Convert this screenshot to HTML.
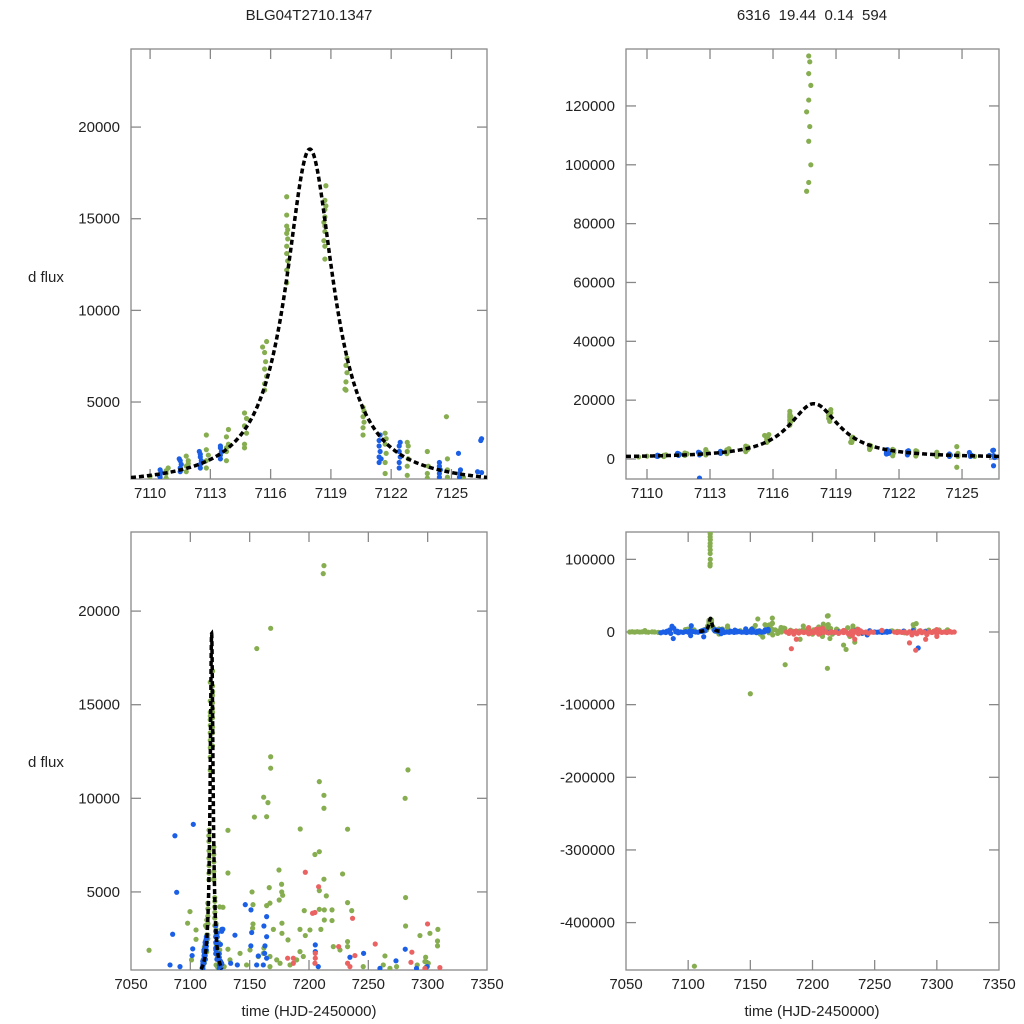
<!DOCTYPE html>
<html><head><meta charset="utf-8"><style>
html,body{margin:0;padding:0;background:#fff;width:1024px;height:1024px;overflow:hidden;}
svg{display:block;font-family:"Liberation Sans",Arial,sans-serif;}
</style></head><body>
<svg id="fig" width="1024" height="1024" viewBox="0 0 1024 1024" xmlns="http://www.w3.org/2000/svg">
<rect width="1024" height="1024" fill="#fff"/>
<text x="309" y="20" font-size="15" text-anchor="middle" fill="#222">BLG04T2710.1347</text>
<text x="812" y="20" font-size="15" text-anchor="middle" fill="#222" xml:space="preserve">6316  19.44  0.14  594</text>
<text x="28" y="282" font-size="15" fill="#222">d flux</text>
<text x="28" y="767" font-size="15" fill="#222">d flux</text>
<text x="309" y="1016" font-size="15" text-anchor="middle" fill="#222">time (HJD-2450000)</text>
<text x="812" y="1016" font-size="15" text-anchor="middle" fill="#222">time (HJD-2450000)</text>
</svg>
<script>
// ---- data ----
const topXTicks=[7110,7113,7116,7119,7122,7125];
const topLeftYTicks=[5000,10000,15000,20000];
const topRightYTicks=[0,20000,40000,60000,80000,100000,120000];
const bottomXTicks=[7050,7100,7150,7200,7250,7300,7350];
const bottomLeftYTicks=[5000,10000,15000,20000];
const bottomRightYTicks=[-400000,-300000,-200000,-100000,0,100000];
// model parameters: peak time, amplitude, width (days), baseline
const modelParams=[7117.95,18400,1.456,400];
// time span over which the model is drawn
const modelSpan=[7109.0,7126.8];

const greenPoints=[
[7110.0,950],[7109.6,700],[7110.8,850],[7110.8,1100],[7110.9,1400],[7110.8,1250],
[7111.8,1200],[7111.8,1500],[7111.9,1800],[7111.8,2050],[7111.9,1650],
[7112.8,1400],[7112.8,1800],[7112.9,2100],[7112.8,2400],[7112.8,3200],
[7113.8,1800],[7113.8,2300],[7113.9,2700],[7113.8,3100],[7113.9,3500],[7113.8,2500],
[7114.7,2500],[7114.7,2700],[7114.8,3300],[7114.7,3700],[7114.8,4100],[7114.7,4400],
[7115.7,5650],[7115.7,6000],[7115.8,6400],[7115.7,6800],[7115.75,7200],[7115.7,7700],[7115.8,8300],[7115.6,8000],
[7116.8,11500],[7116.8,12200],[7116.85,12700],[7116.8,13100],[7116.8,13500],[7116.85,13900],[7116.8,14200],[7116.85,14400],[7116.8,14600],[7116.8,15200],[7116.8,16200],
[7118.7,12800],[7118.7,13500],[7118.65,13800],[7118.7,14300],[7118.7,14600],[7118.65,14800],[7118.7,15100],[7118.7,15500],[7118.75,15700],[7118.7,16000],[7118.75,16800],
[7119.7,5700],[7119.75,5650],[7119.75,6100],[7119.8,6600],[7119.75,7000],[7119.8,7400],
[7120.6,3200],[7120.6,3600],[7120.65,3900],[7120.6,4200],[7120.65,4500],[7120.6,4700],
[7121.7,1100],[7121.7,1700],[7121.75,2200],[7121.7,2700],[7121.75,3000],[7121.7,3300],
[7122.8,1000],[7122.8,1500],[7122.85,1900],[7122.8,2300],[7122.85,2600],[7122.8,2800],
[7123.8,850],[7123.8,1100],[7123.85,1500],[7123.8,2300],
[7124.8,1300],[7124.8,1900],[7124.75,4200],[7124.75,-2800],[7124.8,900],
[7125.6,900],
[7117.6,91000],[7117.7,94000],[7117.8,100000],[7117.7,108000],[7117.75,113000],[7117.6,118000],[7117.7,122000],[7117.8,127000],[7117.7,131000],[7117.75,135000],[7117.7,137000],
[7065.2,1885],[7099.7,3950],[7097.7,3330],[7104.8,2970],[7104.8,2470],[7101,1370],[7131.7,8290],[7131.7,6010],[7127.5,4180],[7131.7,1940],
[7161.8,10060],[7165.4,9770],[7164.3,9020],[7174.7,6170],[7166.5,5230],[7176.9,5410],[7174.9,4570],[7177.8,4820],[7164.3,4270],[7167.1,4400],
[7192.6,8360],[7208.7,10890],[7212.6,10160],[7212.6,9470],[7208.7,7150],[7232.5,8350],[7228.3,5960],[7212.6,5680],[7214.6,4790],[7208.7,5070],
[7212.9,4040],[7219.4,4040],[7212.9,3500],[7219.4,3470],[7208.7,4070],[7232.5,4430],[7281.4,4700],[7281.4,3180],[7293.5,2670],[7301.9,2790],
[7308.6,3000],[7308.3,2380],[7308.3,2120],[7152.8,4320],[7152.8,3290],[7152.5,3060],[7177.2,3330],[7177.2,2790],[7192.4,3000],[7200.8,2970],
[7196.9,2670],[7182.3,2440],[7232.5,2350],[7232.5,2080],[7226.1,1900],[7220.5,2080],[7264,1580],[7273.8,1010],[7298.3,1510],[7291.2,1100],
[7297.7,1280],[7167.1,1550],[7161.5,1720],[7150.3,1900],[7141.9,1720],[7157.3,1550],[7172.8,1370],[7175.6,1190],[7184,1100],[7189.6,1370],
[7192.4,1810],[7195.2,1550],[7167.1,1010],[7147.4,1100],[7133.4,1370],[7128.5,1010],[7245.7,1010],[7262.6,1100],[7299,1010],[7300.5,1190],[7268.2,920],
[7167.7,19080],[7283.4,11520],[7167.7,12220],[7167.7,11610],[7212.6,22430],
[7105,-460000],[7150,-85000],[7178,-45000],[7212,-50000],[7156,18000],[7212,22000],[7281,10000],[7190,-10000],[7225,-18000],[7227,-24000],
[7053,0],[7055,300],[7057,-200],[7059,400],[7061,-100],[7063,200],[7066,0],[7068,-300],[7071,200],[7073,0],[7076,-500],
[7152,5000],[7154,9000],[7158,-3000],[7160,-7000],[7162,2000],[7165,-1000],[7168,-4000],[7170,3000],[7172,-2000],[7175,0],[7177,5000],
[7196,4000],[7200,-3000],[7205,7000],[7208,-6000],[7210,3000],[7214,-9000],[7216,-3000],[7230,-6000],[7234,-14000],[7236,4000],[7240,-2000],[7270,0],[7274,-1000]
];
const bluePoints=[
[7110.5,900],[7110.5,1050],[7110.55,1150],[7110.5,1300],[7110.45,1000],
[7111.5,1200],[7111.5,1400],[7111.55,1600],[7111.5,1800],[7111.45,1900],
[7112.5,1400],[7112.5,1600],[7112.55,1800],[7112.5,2000],[7112.5,2150],[7112.45,2300],[7112.5,-6500],
[7113.5,1900],[7113.5,2100],[7113.55,2300],[7113.5,2500],[7113.5,2600],
[7121.4,1700],[7121.4,2000],[7121.45,2300],[7121.4,2600],[7121.4,2900],[7121.45,3200],[7121.5,1900],
[7122.4,1400],[7122.4,1700],[7122.45,2000],[7122.4,2300],[7122.4,2600],[7122.45,2800],
[7124.4,900],[7124.4,1100],[7124.45,1300],[7124.4,1500],[7124.4,1700],
[7125.4,900],[7125.4,1100],[7125.45,1300],[7125.35,2200],
[7126.3,1200],[7126.5,3000],[7126.5,1150],[7126.46,2900],[7126.5,-2300],[7126.55,500],
[7102.5,8610],[7088.5,4980],[7085.1,2740],[7146.3,4320],[7151.1,4040],[7164.3,3680],[7162,3180],[7151.7,2830],[7164.3,2610],[7137.6,2690],
[7127.4,3010],[7102,1960],[7101.5,1600],[7151,2120],[7157.3,1580],[7162.9,2120],[7162.6,1720],[7164.3,1460],[7205.3,2170],[7205.3,1810],
[7234.5,1510],[7246,1720],[7281.1,1940],[7273.3,1320],[7299.6,1010],[7082.9,1100],[7091.3,1010],[7134,1190],[7139.6,1100],[7155.9,1100],
[7161.5,1100],[7207.8,1010],[7259.8,920],[7290.6,920],
[7285,-22000],[7078,-1000],[7080,0],[7082,-800],[7084,500],[7086,-2000],[7087,8000],[7088,-9000],[7090,300],[7092,-1000],[7094,0],
[7096,-500],[7098,600],[7100,-200],[7102,-5000],[7104,700],[7106,0],[7108,-300],[7127,500],[7129,-800],[7131,0],[7133,-400],[7135,300],
[7137,-600],[7139,0],[7141,500],[7143,-300],[7145,0],[7147,-700],[7149,200],[7151,-400],[7153,0],[7155,-900],[7157,300],[7159,-200],[7161,0],
[7206,-800],[7209,0],[7212,-500],[7215,200],[7218,-400],[7221,0],[7240,-1500],[7244,-4000],[7250,0],[7252,-300],[7254,200],[7256,-500],[7258,0],[7260,-300],[7262,400]
];
const redPoints=[
[7196.9,6050],[7208.1,5280],[7203,3860],[7205,3900],[7236.7,3590],[7299.9,3290],[7286.7,1780],[7255.8,2220],[7225,2080],[7238.7,1600],
[7205.3,1720],[7205.3,1460],[7205,1190],[7182,1460],[7186.8,1460],[7186.8,1190],[7232.5,1190],[7234.5,1010],[7285.9,1240],[7297.7,920],[7310.3,960],
[7183,-23000],[7283,-25000],[7187,-10000],[7234,-10000],[7278,-15000],[7291,-10000],[7300,-6000],[7232,-5000],
[7179,0],[7181,-2000],[7183,500],[7185,-3000],[7187,0],[7189,-1500],[7191,300],[7193,-800],[7195,0],[7197,-2500],[7199,500],[7201,-1000],
[7203,0],[7205,-3000],[7207,400],[7209,-800],[7211,0],[7213,-1500],[7215,300],[7217,-500],[7219,0],[7221,-2000],[7223,200],[7225,-700],
[7227,0],[7229,-3000],[7231,500],[7233,-1000],[7235,0],[7237,-2500],[7239,300],[7241,-600],[7243,0],[7245,-1800],[7247,200],[7249,-400],
[7266,0],[7268,-800],[7270,300],[7272,-600],[7274,0],[7276,-1500],[7278,400],[7280,-4000],[7282,0],[7284,-2500],[7286,300],[7288,-900],
[7290,0],[7292,-3500],[7294,200],[7296,-700],[7298,0],[7300,-1800],[7302,300],[7304,-500],[7306,0],[7308,-800],[7310,200],[7312,-300],[7314,0]
];

// ---- layout ----
const panels=[
 {id:'top-left',x0:131,x1:487,y0:49,y1:479,xmin:7109.05,xmax:7126.77,ymin:800,ymax:24260,xt:topXTicks,yt:topLeftYTicks},
 {id:'top-right',x0:626,x1:999,y0:49,y1:479,xmin:7109.0,xmax:7126.76,ymin:-6800,ymax:139360,xt:topXTicks,yt:topRightYTicks},
 {id:'bottom-left',x0:131,x1:487,y0:532,y1:970,xmin:7050,xmax:7350,ymin:830,ymax:24225,xt:bottomXTicks,yt:bottomLeftYTicks},
 {id:'bottom-right',x0:626,x1:999,y0:532,y1:970,xmin:7050,xmax:7350,ymin:-465240,ymax:137650,xt:bottomXTicks,yt:bottomRightYTicks}
];
const NS='http://www.w3.org/2000/svg';
const svg=document.getElementById('fig');
function mk(tag,attrs,parent){const e=document.createElementNS(NS,tag);for(const k in attrs)e.setAttribute(k,attrs[k]);(parent||svg).appendChild(e);return e;}
function model(t){const d=(t-modelParams[0])/modelParams[2];return modelParams[1]/(1+d*d)+modelParams[3];}
const colors={green:'#86ad4f',blue:'#1a5fe6',red:'#ea6262'};
const defs=mk('defs',{});
panels.forEach((p,pi)=>{
  const X=t=>p.x0+(t-p.xmin)/(p.xmax-p.xmin)*(p.x1-p.x0);
  const Y=v=>p.y1-(v-p.ymin)/(p.ymax-p.ymin)*(p.y1-p.y0);
  const cp=mk('clipPath',{id:'clip'+pi},defs);
  mk('rect',{x:p.x0,y:p.y0,width:p.x1-p.x0,height:p.y1-p.y0},cp);
  const g=mk('g',{});
  
  
  const frame=mk('rect',{x:p.x0,y:p.y0,width:p.x1-p.x0,height:p.y1-p.y0,fill:'none',stroke:'#888','stroke-width':1.3},g);
  
  
  p.xt.forEach(t=>{
    const x=X(t);
    if(x>p.x0+1&&x<p.x1-1){
      mk('line',{x1:x,x2:x,y1:p.y1,y2:p.y1-10,stroke:'#888','stroke-width':1.3},g);
      mk('line',{x1:x,x2:x,y1:p.y0,y2:p.y0+10,stroke:'#888','stroke-width':1.3},g);
    }
    const tx=mk('text',{x:x,y:p.y1+19,'font-size':15,'text-anchor':'middle',fill:'#222'},g);
    tx.textContent=t;
    
    
  });
  p.yt.forEach(v=>{
    const y=Y(v);
    mk('line',{x1:p.x0,x2:p.x0+10,y1:y,y2:y,stroke:'#888','stroke-width':1.3},g);
    mk('line',{x1:p.x1,x2:p.x1-10,y1:y,y2:y,stroke:'#888','stroke-width':1.3},g);
    const ty=mk('text',{x:p.x0-11,y:y+5,'font-size':15,'text-anchor':'end',fill:'#222'},g);
    ty.textContent=v;
    
    
  });
  const pg=mk('g',{'clip-path':'url(#clip'+pi+')'},g);
  [['green',greenPoints],['blue',bluePoints],['red',redPoints]].forEach(([c,arr])=>{
    arr.forEach(pt=>{
      if(pt[0]<p.xmin||pt[0]>p.xmax||pt[1]<p.ymin||pt[1]>p.ymax) return;
      const d=mk('circle',{cx:X(pt[0]).toFixed(2),cy:Y(pt[1]).toFixed(2),r:2.6,fill:colors[c]},pg);
      
      
    });
  });
  const ta=Math.max(p.xmin,modelSpan[0]), tb=Math.min(p.xmax,modelSpan[1]);
  let s='';const n=600;
  for(let i=0;i<=n;i++){const t=ta+(tb-ta)*i/n;const v=Math.max(p.ymin,Math.min(p.ymax,model(t)));s+=(i?'L':'M')+X(t).toFixed(2)+','+Y(v).toFixed(2);}
  const ml=mk('path',{d:s,fill:'none',stroke:'#000','stroke-width':3.5,'stroke-dasharray':'5,3'},pg);
  
  
});
</script>
</body></html>
